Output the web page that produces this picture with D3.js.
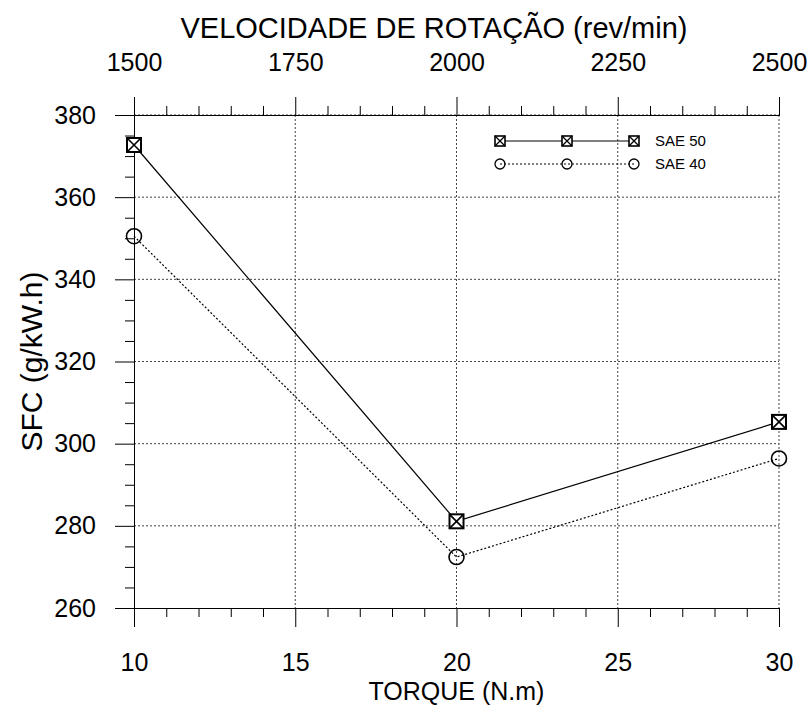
<!DOCTYPE html>
<html>
<head>
<meta charset="utf-8">
<script src="https://cdn.jsdelivr.net/npm/d3@7"></script>
<style>
  body { margin: 0; background: #fff; }
  text { font-family: "Liberation Sans", Arial, sans-serif; fill: #000; }
</style>
</head>
<body>
<svg id="chart"></svg>
<script>
// data
const torque = [10, 20, 30];
const sae50 = [372.7, 281.1, 305.3];
const sae40 = [350.5, 272.4, 296.4];
const torqueTicks = [10, 15, 20, 25, 30];
const sfcTicks = [260, 280, 300, 320, 340, 360, 380];
const rpmTicks = [1500, 1750, 2000, 2250, 2500];
const seriesNames = ["SAE 50", "SAE 40"];

const margin = {top: 115, right: 32, bottom: 101, left: 134};
const W = 811, H = 709;
const width = W - margin.left - margin.right;
const height = H - margin.top - margin.bottom;

const svg = d3.select("#chart").attr("width", W).attr("height", H);
const g = svg.append("g").attr("transform", `translate(${margin.left},${margin.top})`);

const x = d3.scaleLinear().domain([10, 30]).range([0, width]);
const xTop = d3.scaleLinear().domain([1500, 2500]).range([0, width]);
const y = d3.scaleLinear().domain([260, 380]).range([height, 0]);

// grid
g.append("g").selectAll("line")
    .data(torqueTicks.slice(1))
    .enter().append("line")
    .attr("x1", d => x(d)).attr("x2", d => x(d))
    .attr("y1", 0).attr("y2", height)
    .attr("stroke", "#444").attr("stroke-dasharray", "2,2");
g.append("g").selectAll("line")
    .data(sfcTicks.slice(1))
    .enter().append("line")
    .attr("x1", 0).attr("x2", width)
    .attr("y1", d => y(d)).attr("y2", d => y(d))
    .attr("stroke", "#444").attr("stroke-dasharray", "2,2");

// axes
const minorX = d3.range(10, 31, 1).filter(d => d % 5 !== 0);
const minorY = d3.range(260, 381, 5).filter(d => d % 20 !== 0);
const minorTop = d3.range(1500, 2501, 50).filter(d => d % 250 !== 0);

function styleAxis(sel, fs) {
    sel.attr("font-family", null);
    sel.selectAll("path, line").attr("stroke", "#000").attr("stroke-width", 1);
    sel.selectAll("text").style("font-size", fs + "px");
}

g.append("g").attr("transform", `translate(0,${height})`)
    .call(d3.axisBottom(x).tickValues(minorX).tickSize(9).tickSizeOuter(0).tickFormat(""))
    .call(s => styleAxis(s, 25));
g.append("g").attr("transform", `translate(0,${height})`)
    .call(d3.axisBottom(x).tickValues(torqueTicks).tickSize(19).tickSizeOuter(0).tickPadding(26))
    .call(s => styleAxis(s, 25));

g.append("g")
    .call(d3.axisLeft(y).tickValues(minorY).tickSize(9).tickSizeOuter(0).tickFormat(""))
    .call(s => styleAxis(s, 25));
g.append("g")
    .call(d3.axisLeft(y).tickValues(sfcTicks).tickSize(19).tickSizeOuter(0).tickPadding(19))
    .call(s => styleAxis(s, 25));

g.append("g")
    .call(d3.axisTop(xTop).tickValues(minorTop).tickSize(9).tickSizeOuter(0).tickFormat(""))
    .call(s => styleAxis(s, 25));
g.append("g")
    .call(d3.axisTop(xTop).tickValues(rpmTicks).tickSize(18).tickSizeOuter(0).tickPadding(26)
        .tickFormat(d3.format("d")))
    .call(s => styleAxis(s, 25));

// axis titles
svg.append("text")
    .attr("x", 434).attr("y", 38)
    .attr("text-anchor", "middle").style("font-size", "29px")
    .text("VELOCIDADE DE ROTAÇÃO (rev/min)");
svg.append("text")
    .attr("x", margin.left + width / 2).attr("y", 700)
    .attr("text-anchor", "middle").style("font-size", "25px")
    .text("TORQUE (N.m)");
svg.append("text")
    .attr("transform", `translate(42,${margin.top + height / 2}) rotate(-90)`)
    .attr("text-anchor", "middle").style("font-size", "30px")
    .text("SFC (g/kW.h)");

// series
const pts50 = torque.map((t, i) => [t, sae50[i]]);
const pts40 = torque.map((t, i) => [t, sae40[i]]);
const line = d3.line().x(d => x(d[0])).y(d => y(d[1]));

g.append("path").datum(pts50).attr("d", line)
    .attr("fill", "none").attr("stroke", "#000").attr("stroke-width", 1.2);
g.append("path").datum(pts40).attr("d", line)
    .attr("fill", "none").attr("stroke", "#000").attr("stroke-width", 1.2)
    .attr("stroke-dasharray", "2,2");

function squareX(sel, s, sw) {
    sel.append("rect").attr("x", -s / 2).attr("y", -s / 2).attr("width", s).attr("height", s)
        .attr("fill", "#fff").attr("stroke", "#000").attr("stroke-width", sw);
    sel.append("path").attr("d", `M${-s/2},${-s/2}L${s/2},${s/2}M${s/2},${-s/2}L${-s/2},${s/2}`)
        .attr("stroke", "#000").attr("stroke-width", sw * 0.8);
}
function circle(sel, r, sw) {
    sel.append("circle").attr("r", r).attr("fill", "none")
        .attr("stroke", "#000").attr("stroke-width", sw);
}

g.selectAll(".m50").data(pts50).enter().append("g")
    .attr("transform", d => `translate(${x(d[0])},${y(d[1])})`)
    .each(function () { squareX(d3.select(this), 14, 2); });
g.selectAll(".m40").data(pts40).enter().append("g")
    .attr("transform", d => `translate(${x(d[0])},${y(d[1])})`)
    .each(function () { circle(d3.select(this), 7.5, 1.6); });

// legend
const legX = [500, 567, 634];
const legY = [141, 164];
const legend = svg.append("g");
legend.append("line").attr("x1", legX[0]).attr("x2", legX[2]).attr("y1", legY[0]).attr("y2", legY[0])
    .attr("stroke", "#000");
legend.append("line").attr("x1", legX[0]).attr("x2", legX[2]).attr("y1", legY[1]).attr("y2", legY[1])
    .attr("stroke", "#000").attr("stroke-dasharray", "2,2");
legX.forEach(lx => {
    legend.append("g").attr("transform", `translate(${lx},${legY[0]})`)
        .call(s => squareX(s, 10, 1.6));
    legend.append("g").attr("transform", `translate(${lx},${legY[1]})`)
        .call(s => circle(s, 5, 1.3));
});
seriesNames.forEach((name, i) => {
    legend.append("text").attr("x", 655).attr("y", legY[i] + 5)
        .style("font-size", "15px").text(name);
});
</script>
</body>
</html>
